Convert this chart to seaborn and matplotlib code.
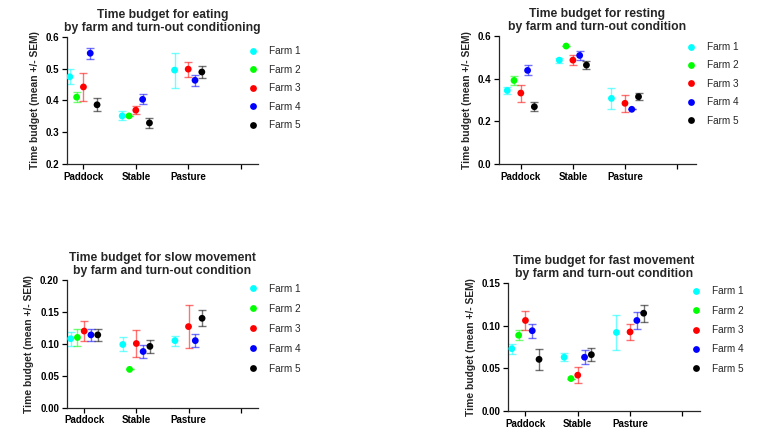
import numpy as np
import pandas as pd
import matplotlib
matplotlib.use("Agg")
import matplotlib.pyplot as plt
import seaborn as sns

nan = np.nan

# categories
conditions = ["Paddock", "Stable", "Pasture"]
farms = ["Farm 1", "Farm 2", "Farm 3", "Farm 4", "Farm 5"]

# rows = farms, columns = conditions (Paddock, Stable, Pasture)
eating_mean = [
    [0.474, 0.351, 0.495],
    [0.410, 0.351, nan],
    [0.442, 0.369, 0.498],
    [0.548, 0.403, 0.463],
    [0.386, 0.329, 0.489],
]
eating_sem = [
    [0.023, 0.014, 0.055],
    [0.016, 0.0, nan],
    [0.044, 0.012, 0.024],
    [0.018, 0.016, 0.018],
    [0.020, 0.017, 0.020],
]

resting_mean = [
    [0.344, 0.486, 0.307],
    [0.391, 0.552, nan],
    [0.332, 0.486, 0.284],
    [0.438, 0.508, 0.256],
    [0.268, 0.463, 0.315],
]
resting_sem = [
    [0.015, 0.012, 0.048],
    [0.022, 0.0, nan],
    [0.040, 0.023, 0.039],
    [0.023, 0.019, 0.0],
    [0.020, 0.020, 0.016],
]

slow_mean = [
    [0.108, 0.099, 0.105],
    [0.110, 0.060, nan],
    [0.120, 0.1005, 0.127],
    [0.114, 0.088, 0.105],
    [0.114, 0.096, 0.140],
]
slow_sem = [
    [0.011, 0.011, 0.008],
    [0.013, 0.0, nan],
    [0.015, 0.021, 0.034],
    [0.009, 0.010, 0.010],
    [0.010, 0.010, 0.0125],
]

fast_mean = [
    [0.073, 0.063, 0.092],
    [0.0887, 0.038, nan],
    [0.106, 0.042, 0.0926],
    [0.094, 0.063, 0.106],
    [0.0605, 0.066, 0.1145],
]
fast_sem = [
    [0.006, 0.005, 0.020],
    [0.006, 0.0, nan],
    [0.011, 0.009, 0.009],
    [0.008, 0.008, 0.010],
    [0.012, 0.0075, 0.010],
]

colors = ["#00FFFF", "#00FF00", "#FF0000", "#0000FF", "#000000"]

sns.set_theme(style="ticks")
plt.rcParams["font.family"] = ["Liberation Sans", "DejaVu Sans"]
plt.rcParams["axes.linewidth"] = 0.9

fig = plt.figure(figsize=(7.68, 4.42), dpi=100)


def to_frame(means, sems):
    offsets = [-0.26, -0.13, 0.0, 0.13, 0.26]
    rows = []
    for i, farm in enumerate(farms):
        for j, cond in enumerate(conditions):
            if np.isnan(means[i][j]):
                continue
            rows.append({"farm": farm, "cond": cond, "x": j + offsets[i],
                         "mean": means[i][j], "sem": sems[i][j]})
    return pd.DataFrame(rows)


def panel(rect, means, sems, title, yticks, ylabels, xlim, leg_xy, leg_space):
    ax = fig.add_axes(rect)
    df = to_frame(means, sems)
    # error bars, drawn lighter than the markers
    for i, farm in enumerate(farms):
        d = df[df["farm"] == farm]
        ax.errorbar(d["x"], d["mean"], yerr=d["sem"], fmt="none",
                    ecolor=colors[i], alpha=0.55, elinewidth=1.0,
                    capsize=2.6, capthick=1.0, zorder=2)
    sns.scatterplot(data=df, x="x", y="mean", hue="farm", hue_order=farms,
                    palette=colors, s=24, linewidth=0, ax=ax, zorder=3)
    ax.set_xlim(*xlim)
    ax.set_ylim(yticks[0], yticks[-1])
    ax.set_xticks([0, 1, 2, 3])
    ax.set_xticklabels(conditions + [""], fontweight="bold", fontsize=7)
    ax.set_yticks(yticks)
    ax.set_yticklabels(ylabels, fontweight="bold", fontsize=7)
    ax.tick_params(length=3.5, width=0.9, pad=2, colors="black")
    ax.set_xlabel("")
    ax.set_ylabel("Time budget (mean +/- SEM)", fontsize=7.4,
                  fontweight="bold", labelpad=4)
    ax.set_title(title, fontsize=8.7, fontweight="bold", pad=4,
                 linespacing=1.15)
    sns.despine(ax=ax)
    sns.move_legend(ax, "upper left", bbox_to_anchor=leg_xy,
                    bbox_transform=fig.transFigure, frameon=False,
                    title=None, fontsize=7.2, borderpad=0,
                    borderaxespad=0, handlelength=1.0, handletextpad=1.1,
                    labelspacing=leg_space, markerscale=1.0)
    return ax


panel([0.0868, 0.629, 0.249, 0.288], eating_mean, eating_sem,
      "Time budget for eating\nby farm and turn-out conditioning",
      [0.2, 0.3, 0.4, 0.5, 0.6], ["0.2", "0.3", "0.4", "0.5", "0.6"],
      (-0.32, 3.33), (248 / 768, 1 - 46 / 442), 0.86)

panel([0.650, 0.629, 0.256, 0.290], resting_mean, resting_sem,
      "Time budget for resting\nby farm and turn-out condition",
      [0.0, 0.2, 0.4, 0.6], ["0.0", "0.2", "0.4", "0.6"],
      (-0.415, 3.36), (685.7 / 768, 1 - 42 / 442), 0.84)

panel([0.0868, 0.0776, 0.249, 0.289], slow_mean, slow_sem,
      "Time budget for slow movement\nby farm and turn-out condition",
      [0.0, 0.05, 0.10, 0.15, 0.20], ["0.00", "0.05", "0.10", "0.15", "0.20"],
      (-0.336, 3.33), (248 / 768, 1 - 283.5 / 442), 1.0)

panel([0.661, 0.070, 0.250, 0.290], fast_mean, fast_sem,
      "Time budget for fast movement\nby farm and turn-out condition",
      [0.0, 0.05, 0.10, 0.15], ["0.00", "0.05", "0.10", "0.15"],
      (-0.34, 3.33), (690.7 / 768, 1 - 286.5 / 442), 0.93)

fig.savefig("out.png", dpi=100, facecolor="white")
